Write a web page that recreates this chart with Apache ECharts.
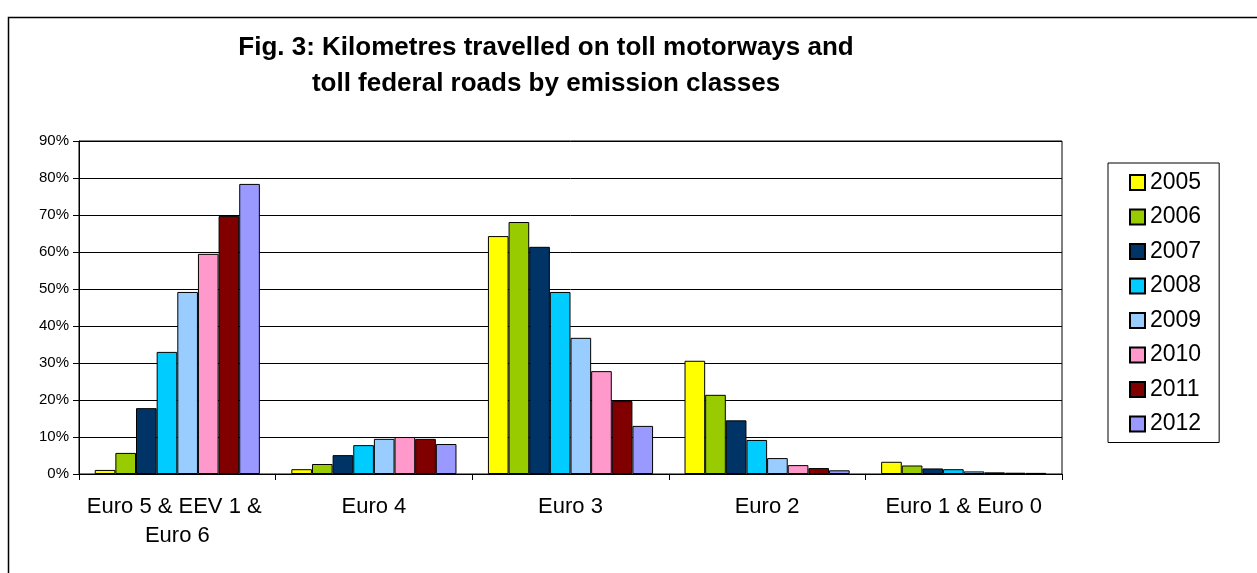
<!DOCTYPE html>
<html>
<head>
<meta charset="utf-8">
<script src="https://cdn.jsdelivr.net/npm/echarts@6/dist/echarts.min.js"></script>
<style>
html,body{margin:0;padding:0;background:#fff;}
#chart{width:1257px;height:573px;}
</style>
</head>
<body>
<div id="chart"></div>
<script>
const categories = ['Euro 5 & EEV 1 & Euro 6', 'Euro 4', 'Euro 3', 'Euro 2', 'Euro 1 & Euro 0'];
const years = ['2005', '2006', '2007', '2008', '2009', '2010', '2011', '2012'];
const v2005 = [1.1, 1.3, 64.3, 30.6, 3.3];
const v2006 = [5.7, 2.7, 68.1, 21.4, 2.3];
const v2007 = [17.8, 5.1, 61.4, 14.5, 1.5];
const v2008 = [33.0, 7.8, 49.2, 9.2, 1.3];
const v2009 = [49.2, 9.5, 36.8, 4.3, 0.7];
const v2010 = [59.5, 10.0, 27.8, 2.4, 0.45];
const v2011 = [69.7, 9.5, 19.7, 1.6, 0.35];
const v2012 = [78.4, 8.1, 13.0, 1.0, 0.3];
const yearValues = [v2005, v2006, v2007, v2008, v2009, v2010, v2011, v2012];
const colors = ['#FFFF00', '#99CC00', '#003366', '#00CCFF', '#99CCFF', '#FF99CC', '#800000', '#9999FF'];
const titleText = 'Fig. 3: Kilometres travelled on toll motorways and\ntoll federal roads by emission classes';

const FONT = '"Liberation Sans", Arial, sans-serif';
const chart = echarts.init(document.getElementById('chart'), null, {renderer: 'canvas'});
chart.setOption({
  animation: false,
  backgroundColor: '#fff',
  textStyle: {fontFamily: FONT},
  title: {
    text: titleText,
    left: 541,
    top: 25,
    textAlign: 'center',
    textStyle: {fontFamily: FONT, fontSize: 26, fontWeight: 'bold', color: '#000', lineHeight: 36}
  },
  graphic: [{
    type: 'rect',
    shape: {x: 8.5, y: 17.5, width: 1300, height: 700},
    style: {fill: 'none', stroke: '#000', lineWidth: 1.5},
    silent: true
  }],
  legend: {
    orient: 'vertical',
    left: 1108,
    top: 163,
    padding: [8, 18, 7, 21],
    itemWidth: 15,
    itemHeight: 15,
    itemGap: 11.5,
    borderColor: '#000',
    borderWidth: 1,
    icon: 'rect',
    textStyle: {fontFamily: FONT, fontSize: 23, color: '#000', lineHeight: 23},
    data: years
  },
  grid: {
    left: 79, right: 195, top: 141, bottom: 99,
    show: true, borderColor: '#000', borderWidth: 1, containLabel: false
  },
  xAxis: {
    type: 'category',
    data: categories,
    axisLine: {lineStyle: {color: '#000', width: 1}},
    axisTick: {show: true, length: 6, lineStyle: {color: '#000'}},
    axisLabel: {
      interval: 0, margin: 18, fontSize: 22, lineHeight: 29, color: '#000',
      fontFamily: FONT, width: 192, overflow: 'break'
    },
    splitLine: {show: false}
  },
  yAxis: {
    type: 'value',
    min: 0, max: 90, interval: 10,
    axisLine: {show: true, lineStyle: {color: '#000', width: 1}},
    axisTick: {show: true, length: 6, lineStyle: {color: '#000'}},
    axisLabel: {formatter: '{value}%', fontSize: 15, color: '#000', margin: 10, fontFamily: FONT},
    splitLine: {lineStyle: {color: '#000', width: 1}}
  },
  series: years.map((y, i) => ({
    name: y,
    type: 'bar',
    data: yearValues[i],
    barGap: '0%',
    barCategoryGap: '16%',
    itemStyle: {color: colors[i], borderColor: '#000', borderWidth: 1}
  }))
});
</script>
</body>
</html>
